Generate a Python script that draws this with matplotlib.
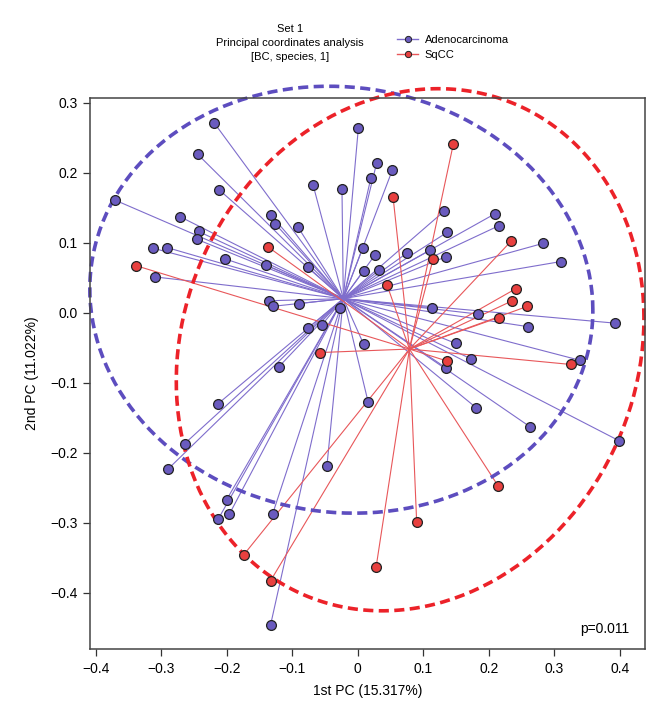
import numpy as np
import matplotlib
matplotlib.use("Agg")
import matplotlib.pyplot as plt
from matplotlib.lines import Line2D

plt.rcParams['font.family'] = ['Liberation Sans', 'DejaVu Sans']

# Adenocarcinoma points (1st PC, 2nd PC)
adeno_x = [-0.219, -0.244, -0.211, -0.371, -0.068, -0.024, 0.001, -0.271, -0.243, -0.246,
           -0.312, -0.291, -0.309, -0.133, -0.126, -0.091, -0.203, -0.140, -0.076, -0.136,
           -0.130, -0.089, -0.027, 0.029, 0.020, 0.053, 0.132, 0.209, 0.215, 0.137,
           0.283, 0.310, 0.008, 0.026, 0.009, 0.033, 0.075, 0.110, 0.135, 0.113,
           0.184, 0.393, 0.260, 0.009, 0.150, 0.173, 0.135, 0.339, 0.016, 0.181,
           0.263, 0.399, -0.076, -0.055, -0.120, -0.213, -0.264, -0.289, -0.047, -0.200,
           -0.213, -0.196, -0.130, -0.133]
adeno_y = [0.271, 0.226, 0.175, 0.161, 0.182, 0.176, 0.264, 0.137, 0.116, 0.105,
           0.092, 0.093, 0.051, 0.140, 0.127, 0.122, 0.077, 0.068, 0.065, 0.017,
           0.009, 0.013, 0.006, 0.214, 0.192, 0.204, 0.145, 0.141, 0.124, 0.115,
           0.099, 0.073, 0.093, 0.082, 0.060, 0.061, 0.085, 0.089, 0.080, 0.007,
           -0.002, -0.015, -0.020, -0.045, -0.044, -0.066, -0.079, -0.068, -0.128, -0.136,
           -0.163, -0.183, -0.022, -0.018, -0.077, -0.130, -0.187, -0.223, -0.219, -0.267,
           -0.295, -0.288, -0.288, -0.446]

# SqCC points
sqcc_x = [-0.338, -0.137, 0.146, 0.054, 0.234, 0.115, 0.045, 0.241, 0.236, 0.259,
          0.215, 0.136, 0.325, 0.214, -0.058, -0.174, -0.133, 0.090, 0.028]
sqcc_y = [0.067, 0.094, 0.241, 0.165, 0.102, 0.076, 0.039, 0.034, 0.017, 0.009,
          -0.007, -0.069, -0.074, -0.247, -0.057, -0.346, -0.383, -0.299, -0.364]

# group centroids and ellipse shapes (centre x, centre y, half extent x, half extent y, correlation)
adeno_center = (-0.022, 0.020)
sqcc_center = (0.079, -0.052)
adeno_ell = (-0.025, 0.0185, 0.384, 0.305, -0.05)
sqcc_ell = (0.080, -0.053, 0.357, 0.373, 0.12)

groups = ["Adenocarcinoma", "SqCC"]
p_text = "p=0.011"

fill_cols = ["#6a5bbf", "#e8403f"]
line_cols = ["#7f6dcc", "#e8575a"]
ell_cols = ["#5d4dbf", "#ec2229"]

fig = plt.figure(figsize=(6.62, 7.14), dpi=100)
ax = fig.add_axes([90/662, 1-649.3/714, 555/662, 551.3/714])

data = [(adeno_x, adeno_y, adeno_center, adeno_ell), (sqcc_x, sqcc_y, sqcc_center, sqcc_ell)]
for k, (xs, ys, cen, ell) in enumerate(data):
    for x, y in zip(xs, ys):
        ax.plot([cen[0], x], [cen[1], y], color=line_cols[k], lw=0.8, zorder=1)

t = np.linspace(0, 2*np.pi, 300)
for k, (xs, ys, cen, ell) in enumerate(data):
    cx, cy, wx, wy, r = ell
    ex = cx + wx*np.cos(t)
    ey = cy + wy*(r*np.cos(t) + np.sqrt(1-r**2)*np.sin(t))
    ax.plot(ex, ey, color=ell_cols[k], lw=2.6, ls=(0, (2.8, 1.5)), zorder=2, clip_on=False)

for k, (xs, ys, cen, ell) in enumerate(data):
    ax.scatter(xs, ys, s=50, color=fill_cols[k], edgecolor="#222222", linewidth=0.9, zorder=3)

ax.set_xlim(-0.4087, 0.4386)
ax.set_ylim(-0.481, 0.3067)
ax.set_xticks([-0.4, -0.3, -0.2, -0.1, 0, 0.1, 0.2, 0.3, 0.4])
ax.set_xticklabels(["\u22120.4", "\u22120.3", "\u22120.2", "\u22120.1", "0", "0.1", "0.2", "0.3", "0.4"])
ax.set_yticks([-0.4, -0.3, -0.2, -0.1, 0, 0.1, 0.2, 0.3])
ax.set_yticklabels(["\u22120.4", "\u22120.3", "\u22120.2", "\u22120.1", "0.0", "0.1", "0.2", "0.3"])
ax.tick_params(labelsize=10, length=5, width=0.9, color="#333333", pad=4)
for s in ax.spines.values():
    s.set_color("#444444")
    s.set_linewidth(1.1)

ax.set_xlabel("1st PC (15.317%)", fontsize=10, labelpad=6)
ax.set_ylabel("2nd PC (11.022%)", fontsize=10, labelpad=8)
ax.text(0.972, 0.037, p_text, transform=ax.transAxes, ha="right", va="center", fontsize=10)

fig.text(290/662, 1-43/714, "Set 1\nPrincipal coordinates analysis\n[BC, species, 1]",
         ha="center", va="center", fontsize=8, linespacing=1.5)

handles = [Line2D([0], [0], color=line_cols[k], lw=1, marker="o", markersize=4.5,
                  markerfacecolor=fill_cols[k], markeredgecolor="#222222", markeredgewidth=0.7)
           for k in range(2)]
fig.legend(handles, groups, loc="upper left", bbox_to_anchor=(397/662, 1-35/714),
           frameon=False, fontsize=8, handlelength=1.9, handletextpad=0.6,
           labelspacing=0.45, borderpad=0, borderaxespad=0)

fig.savefig("out.png", dpi=100)
